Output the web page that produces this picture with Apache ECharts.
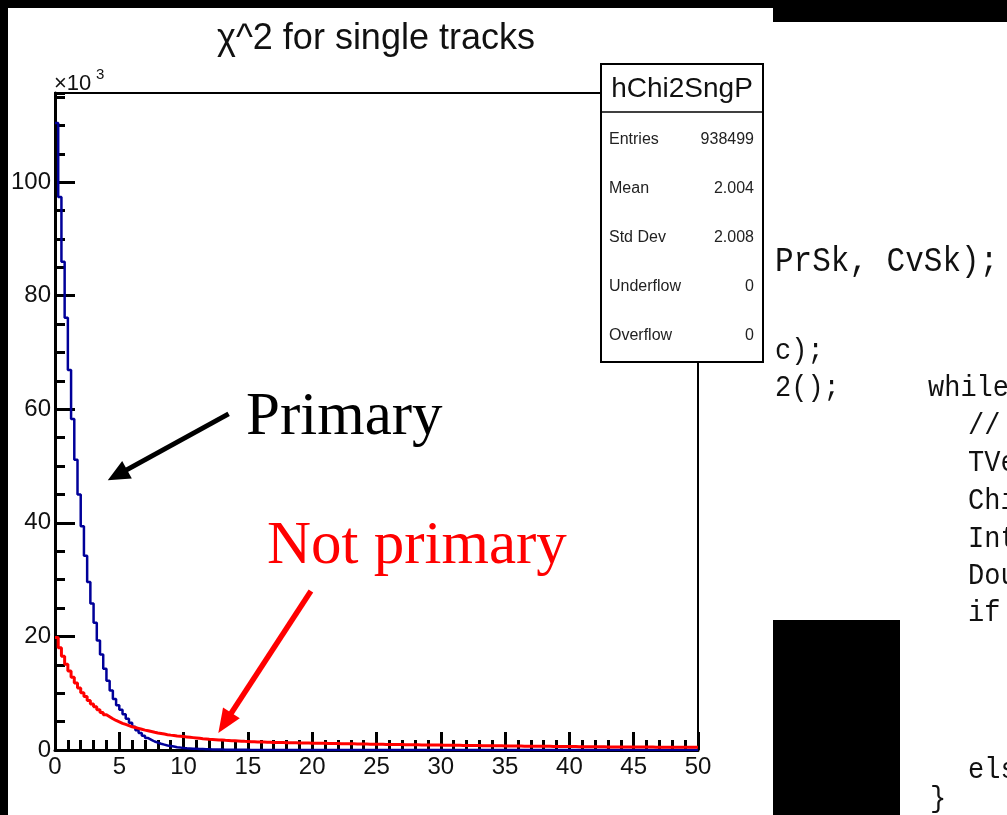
<!DOCTYPE html>
<html>
<head>
<meta charset="utf-8">
<script src="https://cdn.jsdelivr.net/npm/echarts@6/dist/echarts.min.js"></script>
<style>
  html, body { margin: 0; padding: 0; background: #000; }
  #main { width: 1007px; height: 815px; }
</style>
</head>
<body>
<div id="main"></div>
<script>
// chi^2 histograms, 200 bins of width 0.25 over [0, 50], counts in units of 10^3
const binWidth = 0.25;
const xMin = 0;
const xMax = 50;
const yMax = 115.7;

// primary tracks (blue)
const primary = [
  110.4, 97.4, 86.0, 76.1, 66.9, 58.3, 51.1, 45.0, 39.4, 34.2,
  29.6, 25.8, 22.4, 19.3, 16.8, 14.3, 12.2, 10.5, 9.0, 7.9,
  7.1, 6.3, 5.5, 4.8, 4.1, 3.5, 3.0, 2.5, 2.1, 1.8,
  1.5, 1.3, 1.1, 0.95, 0.8, 0.7, 0.6, 0.5, 0.43, 0.37,
  0.32, 0.28, 0.24, 0.21, 0.18, 0.16, 0.14, 0.12, 0.10, 0.09,
  0.08, 0.07, 0.06, 0.05, 0.05, 0.04, 0.04, 0.03, 0.03, 0.03,
  0.02, 0.02, 0.02, 0.02, 0.01, 0.01, 0.01, 0.01, 0.01, 0.01,
  0, 0, 0, 0, 0, 0, 0, 0, 0, 0,
  0, 0, 0, 0, 0, 0, 0, 0, 0, 0,
  0, 0, 0, 0, 0, 0, 0, 0, 0, 0,
  0, 0, 0, 0, 0, 0, 0, 0, 0, 0,
  0, 0, 0, 0, 0, 0, 0, 0, 0, 0,
  0, 0, 0, 0, 0, 0, 0, 0, 0, 0,
  0, 0, 0, 0, 0, 0, 0, 0, 0, 0,
  0, 0, 0, 0, 0, 0, 0, 0, 0, 0,
  0, 0, 0, 0, 0, 0, 0, 0, 0, 0,
  0, 0, 0, 0, 0, 0, 0, 0, 0, 0,
  0, 0, 0, 0, 0, 0, 0, 0, 0, 0,
  0, 0, 0, 0, 0, 0, 0, 0, 0, 0,
  0, 0, 0, 0, 0, 0, 0, 0, 0, 0
];

// not-primary tracks (red)
const notPrimary = [
  19.8, 18.0, 16.5, 15.1, 13.9, 12.8, 11.8, 10.9, 10.1, 9.4,
  8.7, 8.1, 7.6, 7.1, 6.6, 6.2, 5.85, 5.5, 5.2, 4.95,
  4.7, 4.5, 4.3, 4.1, 3.95, 3.8, 3.65, 3.5, 3.38, 3.25,
  3.12, 3.0, 2.9, 2.8, 2.7, 2.62, 2.55, 2.48, 2.42, 2.36,
  2.3, 2.24, 2.18, 2.12, 2.06, 2.0, 1.95, 1.9, 1.86, 1.82,
  1.78, 1.74, 1.7, 1.67, 1.64, 1.61, 1.58, 1.55, 1.52, 1.5,
  1.47, 1.45, 1.43, 1.41, 1.39, 1.37, 1.36, 1.34, 1.33, 1.31,
  1.3, 1.29, 1.28, 1.27, 1.26, 1.25, 1.24, 1.23, 1.22, 1.21,
  1.2, 1.19, 1.18, 1.17, 1.16, 1.15, 1.14, 1.13, 1.12, 1.11,
  1.1, 1.09, 1.08, 1.07, 1.06, 1.05, 1.04, 1.03, 1.03, 1.02,
  1.01, 1.0, 0.99, 0.98, 0.97, 0.97, 0.96, 0.95, 0.94, 0.94,
  0.93, 0.92, 0.91, 0.9, 0.9, 0.89, 0.88, 0.88, 0.87, 0.86,
  0.85, 0.84, 0.84, 0.83, 0.82, 0.82, 0.81, 0.8, 0.8, 0.79,
  0.78, 0.78, 0.77, 0.76, 0.76, 0.75, 0.74, 0.74, 0.73, 0.72,
  0.71, 0.71, 0.7, 0.7, 0.69, 0.68, 0.68, 0.67, 0.67, 0.66,
  0.65, 0.65, 0.64, 0.64, 0.63, 0.63, 0.62, 0.62, 0.61, 0.61,
  0.6, 0.6, 0.59, 0.59, 0.58, 0.58, 0.57, 0.57, 0.57, 0.56,
  0.56, 0.55, 0.55, 0.55, 0.54, 0.54, 0.54, 0.53, 0.53, 0.53,
  0.52, 0.52, 0.52, 0.51, 0.51, 0.51, 0.5, 0.5, 0.5, 0.5,
  0.49, 0.49, 0.49, 0.49, 0.48, 0.48, 0.48, 0.48, 0.47, 0.47
];

// statistics panel
const statsTitle = 'hChi2SngP';
const statsLabels = ['Entries', 'Mean', 'Std Dev', 'Underflow', 'Overflow'];
const statsValues = ['938499', '2.004', '2.008', '0', '0'];

// editor text beside the canvas
const codeLines = [
  { text: 'PrSk, CvSk);', col: 775, base: 274, size: 31, sy: 1.12 },
  { text: 'c);', col: 775, base: 362, size: 27, sy: 1.1 },
  { text: '2();', col: 775, base: 399, size: 27, sy: 1.1 },
  { text: 'while', col: 928, base: 399, size: 27, sy: 1.1 },
  { text: '//', col: 968, base: 437, size: 27, sy: 1.1 },
  { text: 'TVe', col: 968, base: 474, size: 27, sy: 1.1 },
  { text: 'Chi', col: 968, base: 512, size: 27, sy: 1.1 },
  { text: 'Int', col: 968, base: 550, size: 27, sy: 1.1 },
  { text: 'Dou', col: 968, base: 587, size: 27, sy: 1.1 },
  { text: 'if', col: 968, base: 624, size: 27, sy: 1.1 },
  { text: 'els', col: 968, base: 781, size: 27, sy: 1.1 },
  { text: '}', col: 930, base: 810, size: 27, sy: 1.1 }
];

// histogram outline: one point per bin low edge, closed at the upper range edge
function histPoints(vals) {
  const pts = vals.map((v, i) => [xMin + i * binWidth, v]);
  pts.push([xMax, vals[vals.length - 1]]);
  return pts;
}

const SANS = '"Liberation Sans", Arial, sans-serif';
const SERIF = '"Liberation Serif", "Times New Roman", serif';
const MONO = '"Liberation Mono", "Courier New", monospace';

const chart = echarts.init(document.getElementById('main'), null, { renderer: 'canvas' });

const tickStyle = { color: '#000', width: 3 };

chart.setOption({
  backgroundColor: '#000',
  animation: false,
  grid: {
    left: 55, top: 93, right: 309, bottom: 65,
    show: true, backgroundColor: '#fff', borderColor: '#000', borderWidth: 2
  },
  xAxis: {
    type: 'value', min: xMin, max: xMax, interval: 5,
    axisLine: { show: true, onZero: false, lineStyle: tickStyle },
    axisTick: { show: true, inside: true, length: 18, lineStyle: tickStyle },
    minorTick: { show: true, splitNumber: 5, length: 10, lineStyle: tickStyle },
    splitLine: { show: false },
    axisLabel: { fontSize: 24, color: '#111', fontFamily: SANS, margin: 5 }
  },
  yAxis: [
    {
      type: 'value', min: 0, max: yMax, interval: 20,
      axisLine: { show: true, lineStyle: tickStyle },
      axisTick: { show: true, inside: true, length: 20, lineStyle: tickStyle },
      splitLine: { show: false },
      axisLabel: {
        fontSize: 24, color: '#111', fontFamily: SANS, margin: 4,
        showMaxLabel: false,
        formatter: v => (v % 20 === 0 ? String(v) : '')
      }
    },
    {
      type: 'value', min: 0, max: yMax, interval: 5, position: 'left', offset: 0,
      axisLine: { show: false },
      axisTick: { show: true, inside: true, length: 10, lineStyle: tickStyle },
      splitLine: { show: false },
      axisLabel: { show: false }
    }
  ],
  series: [
    {
      name: 'Primary', type: 'line', step: 'end', yAxisIndex: 0,
      showSymbol: false, z: 3,
      lineStyle: { color: '#000099', width: 2.5 },
      data: histPoints(primary)
    },
    {
      name: 'Not primary', type: 'line', step: 'end', yAxisIndex: 0,
      showSymbol: false, z: 4,
      lineStyle: { color: '#ff0000', width: 3 },
      data: histPoints(notPrimary)
    }
  ]
});

// arrow from a tail point to a tip point, both given in data coordinates
function arrow(tail, tip, color, width, headLen, headHalf) {
  const a = chart.convertToPixel({ gridIndex: 0 }, tail);
  const b = chart.convertToPixel({ gridIndex: 0 }, tip);
  const dx = b[0] - a[0], dy = b[1] - a[1];
  const L = Math.hypot(dx, dy);
  const ux = dx / L, uy = dy / L;
  const bx = b[0] - ux * headLen, by = b[1] - uy * headLen;
  return [
    { type: 'line', z: 20, shape: { x1: a[0], y1: a[1], x2: bx + ux * 2, y2: by + uy * 2 },
      style: { stroke: color, lineWidth: width } },
    { type: 'polygon', z: 20, shape: { points: [
        [b[0], b[1]],
        [bx - uy * headHalf, by + ux * headHalf],
        [bx + uy * headHalf, by - ux * headHalf]
      ] }, style: { fill: color } }
  ];
}

function label(x, y, text, font, fill, align, extra) {
  return Object.assign({
    type: 'text', x: x, y: y, z: 30,
    style: { text: text, font: font, fill: fill, align: align || 'left', verticalAlign: 'middle' }
  }, extra || {});
}

const g = [];
// page panels
g.push({ type: 'rect', z: -100, shape: { x: 8, y: 8, width: 765, height: 807 }, style: { fill: '#fff' } });
g.push({ type: 'rect', z: -100, shape: { x: 773, y: 22, width: 234, height: 793 }, style: { fill: '#fff' } });
g.push({ type: 'rect', z: -90, shape: { x: 773, y: 620, width: 127, height: 195 }, style: { fill: '#000' } });

// title and exponent
g.push(label(376, 39, 'χ^2 for single tracks', '36px ' + SANS, '#111', 'center'));
g.push(label(54, 84, '×10', '22px ' + SANS, '#111', 'left'));
g.push(label(96, 75, '3', '15px ' + SANS, '#111', 'left'));

// statistics box
g.push({ type: 'rect', z: 25, shape: { x: 601, y: 64, width: 162, height: 298 },
  style: { fill: '#fff', stroke: '#000', lineWidth: 2 } });
g.push({ type: 'line', z: 26, shape: { x1: 601, y1: 112, x2: 763, y2: 112 },
  style: { stroke: '#000', lineWidth: 1.5 } });
g.push(label(682, 89, statsTitle, '28px ' + SANS, '#111', 'center'));
statsLabels.forEach((s, i) => {
  const yy = 140 + i * 49;
  g.push(label(609, yy, s, '16px ' + SANS, '#222', 'left'));
  g.push(label(754, yy, statsValues[i], '16px ' + SANS, '#222', 'right'));
});

// annotations
g.push(label(246, 418, 'Primary', '61px ' + SERIF, '#000', 'left'));
g.push(label(267, 547, 'Not primary', '61px ' + SERIF, '#ff0000', 'left'));
arrow([13.5, 59.2], [4.1, 47.5], '#000', 5, 22, 10).forEach(e => g.push(e));
arrow([19.9, 28.0], [12.7, 3.0], '#ff0000', 5.5, 24, 10).forEach(e => g.push(e));

// source text
codeLines.forEach(c => {
  g.push({
    type: 'text', x: c.col, y: c.base - 0.35 * c.size * c.sy, z: -80, scaleY: c.sy,
    style: { text: c.text, font: c.size + 'px ' + MONO, fill: '#111', align: 'left', verticalAlign: 'middle' }
  });
});

chart.setOption({ graphic: { elements: g } });
</script>
</body>
</html>
